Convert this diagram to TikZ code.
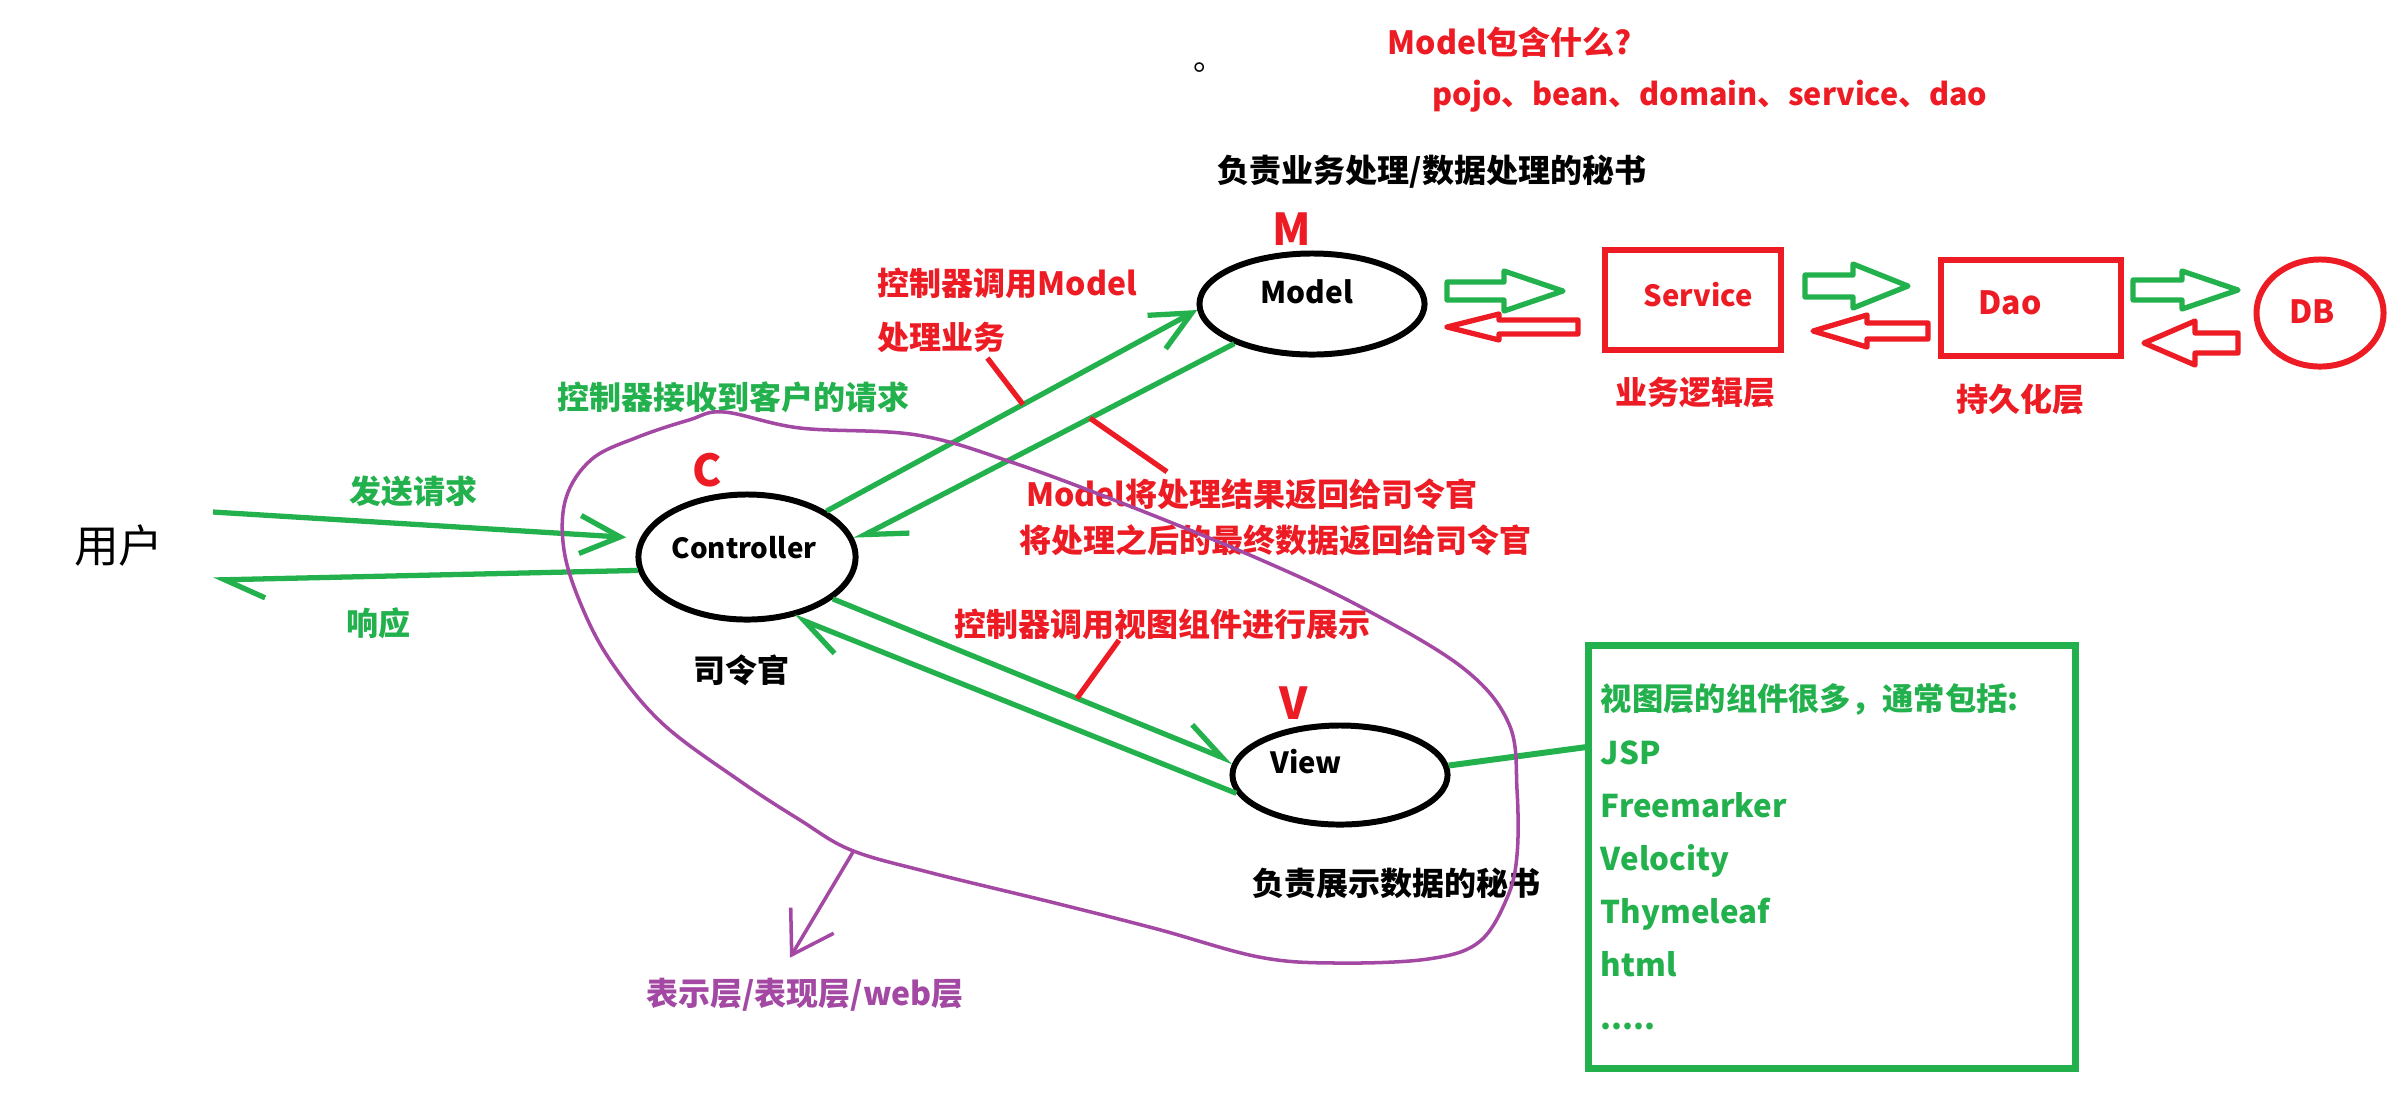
\documentclass[tikz,border=0pt]{standalone}
\usepackage{fontspec}
\setmainfont{Noto Sans CJK SC}
\definecolor{MvcGreen}{HTML}{22B14C}
\definecolor{MvcRed}{HTML}{ED1C24}
\definecolor{MvcPurple}{HTML}{A349A4}
\usetikzlibrary{positioning,shapes.geometric,arrows.meta,calc}

% hollow block arrow: colour, tail x, head base x, tip x, centre y, shaft half, head half
\newcommand{\blockarrow}[7]{%
  \draw[#1, line width=1.5pt, line join=round]
    (#2,#5-#6) -- (#3,#5-#6) -- (#3,#5-#7) -- (#4,#5)
    -- (#3,#5+#7) -- (#3,#5+#6) -- (#2,#5+#6) -- cycle;}

\begin{document}
\begin{tikzpicture}[x=0.01cm, y=-0.01cm,
    lbl/.style={font=\bfseries\fontsize{9.1pt}{11pt}\selectfont, inner sep=0pt},
    latin/.style={font=\bfseries\fontsize{#1}{11pt}\selectfont},
    redlbl/.style={lbl, text=MvcRed},
    greenlbl/.style={lbl, text=MvcGreen},
    letter/.style={font=\bfseries\fontsize{12.5pt}{14pt}\selectfont, text=MvcRed, inner sep=0pt},
    mvc/.style 2 args={ellipse, draw=black, line width=1.7pt, inner sep=0pt,
      minimum width=#1, minimum height=#2},
    layerbox/.style 2 args={rectangle, draw=MvcRed, line width=1.7pt, inner sep=0pt,
      minimum width=#1, minimum height=#2},
    flow/.style={draw=MvcGreen, line width=1.5pt, -{Straight Barb[length=0.4cm, width=0.38cm]}},
    flowback/.style={draw=MvcGreen, line width=1.5pt,
      -{Straight Barb[harpoon, length=0.4cm, width=0.38cm]}},
    callout/.style={draw=MvcRed, line width=1.5pt}]
  \fill[white] (0,0) rectangle (2404,1102);
  \useasboundingbox (0,0) rectangle (2404,1102);

  % user and controller
  \node[font=\fontsize{12.7pt}{14pt}\selectfont, inner sep=0pt] (user) at (119,546) {用户};
  \node[mvc={2.17cm}{1.25cm}] (ctrl) at (747,557) {};
  \node[lbl, latin=7.9pt] (ctrltxt) at (744,548) {Controller};
  \node[letter] (cletter) at (707,470) {C};
  \node[lbl] (ctrlrole) at (741,670) {司令官};

  % model
  \node[mvc={2.25cm}{1.01cm}] (model) at (1312,304) {};
  \node[lbl, latin=8.5pt] (modeltxt) at (1307,292) {Model};
  \node[letter] (mletter) at (1292,229) {M};
  \node[lbl] (modelrole) at (1432,172) {负责业务处理/数据处理的秘书};
  \node[lbl, font=\fontsize{9.1pt}{11pt}\selectfont] (dot) at (1209,68) {。};

  % view
  \node[mvc={2.15cm}{0.99cm}] (view) at (1340,775) {};
  \node[lbl, latin=8.3pt] (viewtxt) at (1306,762) {View};
  \node[letter] (vletter) at (1294,703) {V};
  \node[lbl] (viewrole) at (1396,883) {负责展示数据的秘书};

  % labels
  \node[redlbl, anchor=west] (mquestion) at (1387,42) {Model包含什么?};
  \node[redlbl, latin=8.7pt] (mparts) at (1710,96) {pojo、bean、domain、service、dao};
  \node[redlbl, anchor=west] (callmodel) at (877,283) {控制器调用Model};
  \node[redlbl, anchor=west] (callbiz) at (877,337) {处理业务};
  \node[redlbl] (backone) at (1252,494) {Model将处理结果返回给司令官};
  \node[redlbl] (backtwo) at (1275,540) {将处理之后的最终数据返回给司令官};
  \node[redlbl] (callview) at (1162,624) {控制器调用视图组件进行展示};
  \node[greenlbl] (recv) at (733,397) {控制器接收到客户的请求};
  \node[greenlbl] (sendtxt) at (413,491) {发送请求};
  \node[greenlbl] (resptxt) at (378,623) {响应};
  \node[lbl, text=MvcPurple] (weblayer) at (805,995) {表示层/表现层/web层};

  % service, dao, db
  \node[layerbox={1.75cm}{0.99cm}] (svc) at (1693,300) {};
  \node[redlbl, latin=8.3pt] (svctxt) at (1698,295) {Service};
  \node[redlbl] (svcrole) at (1695,392) {业务逻辑层};
  \node[layerbox={1.80cm}{0.95cm}] (dao) at (2031,308) {};
  \node[redlbl] (daotxt) at (2010,303) {Dao};
  \node[redlbl] (daorole) at (2020,399) {持久化层};
  \node[ellipse, draw=MvcRed, line width=1.7pt, inner sep=0pt,
    minimum width=1.27cm, minimum height=1.07cm] (db) at (2320,313) {};
  \node[redlbl] (dbtxt) at (2312,312) {DB};

  \blockarrow{MvcGreen}{1447}{1504}{1563}{291}{9}{20}
  \blockarrow{MvcRed}{1578}{1499}{1447}{327}{7}{13}
  \blockarrow{MvcGreen}{1805}{1853}{1908}{286}{11}{22}
  \blockarrow{MvcRed}{1928}{1867}{1813}{331}{8}{16}
  \blockarrow{MvcGreen}{2133}{2182}{2238}{290}{10}{19}
  \blockarrow{MvcRed}{2238}{2195}{2144}{343}{10}{22}

  % view engines
  \node[draw=MvcGreen, line width=2pt, minimum width=4.86cm, minimum height=4.22cm,
    text width=4.62cm, inner sep=0.12cm, align=left, text=MvcGreen,
    font=\bfseries\fontsize{8.9pt}{15.1pt}\selectfont] (engines) at (1832,857)
    {视图层的组件很多，通常包括:\\JSP\\Freemarker\\Velocity\\Thymeleaf\\html\\.....};

  % connectors
  \coordinate (reqfrom) at (213,512);
  \coordinate (respto) at (213,580);
  \draw[flow, shorten >=0.14cm] (reqfrom) -- (ctrl.170);
  \draw[flowback] (ctrl.187) -- (respto);
  \draw[flow] (ctrl.30) -- (model.183);
  \draw[flowback] (model.207) -- (ctrl.9);
  \draw[flowback] (ctrl.334) -- (view.173);
  \draw[flowback] (view.190) -- (ctrl.308);
  \draw[draw=MvcGreen, line width=1.7pt] (view.5) -- (engines.156);

  \draw[callout] ([xshift=-0.19cm,yshift=-0.05cm]callbiz.south east)
    -- ($(ctrl.30)!0.53!(model.183)$);
  \draw[callout] ($(model.207)!0.38!(ctrl.9)$)
    -- ([xshift=-0.85cm,yshift=0.06cm]backone.north);
  \draw[callout] ([xshift=-0.43cm]callview.south) -- ($(ctrl.334)!0.61!(view.173)$);

  % presentation layer loop
  \draw[MvcPurple, line width=1pt] plot[smooth cycle, tension=0.6] coordinates {
    (724,412) (800,428) (917,435) (1014,463) (1132,507) (1259,559) (1361,607)
    (1463,668) (1509,724) (1517,790) (1517,855) (1507,898) (1479,942) (1428,959)
    (1336,963) (1259,957) (1157,929) (1055,903) (928,872) (851,850) (800,820)
    (740,781) (663,724) (612,663) (582,607) (564,550) (566,498) (592,459)
    (638,437) (689,420)};
  \coordinate (ptrfrom) at (853,852);
  \draw[MvcPurple, line width=1pt, -{Straight Barb[length=0.4cm, width=0.5cm]}]
    (ptrfrom) -- ([xshift=-0.15cm,yshift=0.2cm]weblayer.north);
\end{tikzpicture}
\end{document}
